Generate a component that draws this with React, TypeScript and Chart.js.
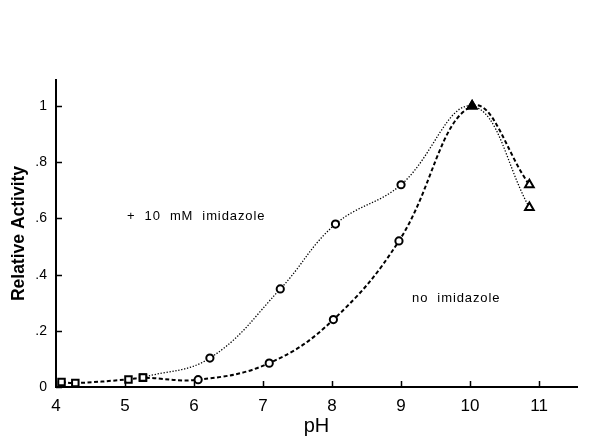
import React, { useEffect, useRef } from 'react';
import { Chart, registerables } from 'chart.js';

Chart.register(...registerables);

// ---- data ----
const noImidazolePH = [4.08, 4.28, 5.05, 5.26, 6.06, 7.09, 8.02, 8.97, 10.03, 10.86];
const noImidazoleActivity = [0.018, 0.014, 0.027, 0.033, 0.026, 0.085, 0.24, 0.52, 1.0, 0.72];
const noImidazoleMarkers = ['rect', 'rect', 'rect', 'rect', 'circle', 'circle', 'circle', 'circle', 'triangle', 'triangle'];

const plusImidazolePH = [5.26, 6.23, 7.25, 8.05, 9.0, 10.03, 10.86];
const plusImidazoleActivity = [0.034, 0.103, 0.349, 0.58, 0.72, 1.0, 0.639];
const plusImidazoleMarkers = ['rect', 'circle', 'circle', 'circle', 'circle', 'triangle', 'triangle'];

const xTickValues = [4, 5, 6, 7, 8, 9, 10, 11];
const yTickValues = [0, 0.2, 0.4, 0.6, 0.8, 1];
const yTickLabels = ['0', '.2', '.4', '.6', '.8', '1'];

const annotationTexts = ['+ 10 mM imidazole', 'no imidazole'];

const FONT = '"Liberation Sans", Arial, Helvetica, sans-serif';

export default function App() {
  const ref = useRef<HTMLCanvasElement | null>(null);

  useEffect(() => {
    document.body.style.margin = '0';
    const canvas = ref.current;
    if (!canvas) return;

    const toPoints = (xs: number[], ys: number[]) => xs.map((x, i) => ({ x, y: ys[i] }));

    const inwardTicks = {
      id: 'inwardTicks',
      afterDatasetsDraw(chart: any) {
        const { ctx } = chart;
        const xs = chart.scales.x;
        const ys = chart.scales.y;
        const area = chart.chartArea;
        ctx.save();
        ctx.strokeStyle = '#000';
        ctx.lineWidth = 1.5;
        ctx.beginPath();
        xTickValues.forEach((v) => {
          const px = Math.round(xs.getPixelForValue(v)) + 0.5;
          ctx.moveTo(px, area.bottom);
          ctx.lineTo(px, area.bottom - 6);
        });
        yTickValues.forEach((v) => {
          const py = Math.round(ys.getPixelForValue(v)) + 0.5;
          ctx.moveTo(area.left, py);
          ctx.lineTo(area.left + 6, py);
        });
        ctx.stroke();

        // annotations, anchored in data coordinates
        ctx.fillStyle = '#000';
        ctx.font = `13px ${FONT}`;
        (ctx as any).letterSpacing = '0.9px';
        ctx.textBaseline = 'middle';
        ctx.textAlign = 'left';
        ctx.fillText(annotationTexts[0].replace(/ /g, '  '), xs.getPixelForValue(5.03), ys.getPixelForValue(0.608));
        ctx.fillText(annotationTexts[1].replace(/ /g, '  '), xs.getPixelForValue(9.16), ys.getPixelForValue(0.317));
        ctx.restore();
      },
    };

    const chart = new Chart(canvas, {
      type: 'scatter',
      data: {
        datasets: [
          {
            label: '+ 10 mM imidazole',
            data: toPoints(plusImidazolePH, plusImidazoleActivity),
            showLine: true,
            tension: 0.4,
            borderColor: '#000',
            borderWidth: 1.3,
            borderDash: [1.3, 1.7],
            pointStyle: plusImidazoleMarkers as any,
            pointRadius: plusImidazoleMarkers.map((m) => (m === 'triangle' ? 5 : m === 'rect' ? 4.6 : 3.6)),
            pointBorderWidth: 2,
            pointBorderColor: '#000',
            pointBackgroundColor: plusImidazolePH.map((_, i) => (i === 5 ? '#000' : '#fff')),
          },
          {
            label: 'no imidazole',
            data: toPoints(noImidazolePH, noImidazoleActivity),
            showLine: true,
            tension: 0.4,
            borderColor: '#000',
            borderWidth: 2,
            borderDash: [4, 2.5],
            pointStyle: noImidazoleMarkers as any,
            pointRadius: noImidazoleMarkers.map((m) => (m === 'triangle' ? 5 : m === 'rect' ? 4.6 : 3.6)),
            pointBorderWidth: 2,
            pointBorderColor: '#000',
            pointBackgroundColor: noImidazolePH.map((_, i) => (i === 8 ? '#000' : '#fff')),
          },
        ],
      },
      options: {
        responsive: false,
        animation: false,
        layout: { padding: { top: 80, right: 13, left: 0, bottom: 0 } },
        plugins: {
          legend: { display: false },
          tooltip: { enabled: false },
        },
        scales: {
          x: {
            type: 'linear',
            min: 4,
            max: 11.55,
            afterFit: (s: any) => {
              s.height = 49;
            },
            afterBuildTicks: (s: any) => {
              s.ticks = xTickValues.map((v) => ({ value: v }));
            },
            grid: { display: true, drawOnChartArea: false, drawTicks: false },
            border: { display: true, color: '#000', width: 2 },
            ticks: {
              color: '#000',
              padding: 9,
              font: { family: FONT, size: 17 },
              callback: (v: any) => String(v),
              maxRotation: 0,
            },
            title: {
              display: true,
              text: 'pH',
              color: '#000',
              font: { family: FONT, size: 20, lineHeight: 1 },
              padding: { top: 0, bottom: 0 },
            },
          },
          y: {
            type: 'linear',
            min: 0,
            max: 1.093,
            afterFit: (s: any) => {
              s.width = 56;
            },
            afterBuildTicks: (s: any) => {
              s.ticks = yTickValues.map((v) => ({ value: v }));
            },
            grid: { display: true, drawOnChartArea: false, drawTicks: false },
            border: { display: true, color: '#000', width: 2 },
            ticks: {
              color: '#000',
              padding: 9,
              font: { family: FONT, size: 14 },
              callback: (v: any) => {
                const i = yTickValues.findIndex((t) => Math.abs(t - Number(v)) < 1e-6);
                return i >= 0 ? yTickLabels[i] : '';
              },
            },
            title: {
              display: true,
              text: 'Relative Activity',
              color: '#000',
              font: { family: FONT, size: 17.5, weight: 'bold', lineHeight: 1 },
              padding: { top: 10.5, bottom: 0 },
            },
          },
        },
      },
      plugins: [inwardTicks],
    });

    return () => chart.destroy();
  }, []);

  return (
    <div style={{ width: 590, height: 436, background: '#fff' }}>
      <canvas ref={ref} width={590} height={436} />
    </div>
  );
}
